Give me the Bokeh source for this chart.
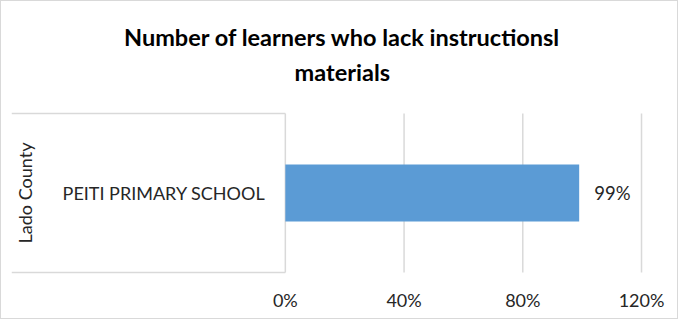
from bokeh.plotting import figure
from bokeh.models import Range1d, FixedTicker, ColumnDataSource
from bokeh.core.properties import value
from bokeh.embed import file_html
from bokeh.resources import INLINE
import math

# ---- data ----
county = "Lado County"
schools = ["PEITI PRIMARY SCHOOL"]
shares = [0.99]
value_labels = ["99%"]
x_ticks = [0, 0.4, 0.8, 1.2]
x_tick_labels = ["0%", "40%", "80%", "120%"]
title_lines = ["Number of learners who lack instructionsl", "materials"]

FONT = "Lato"
TXT = "#262626"
GRID = "#d9d9d9"
BAR = "#5b9bd5"

W, H = 678, 319
x_start, x_end = -0.9226, 1.2067
# the frame also covers the title area, so the title is drawn in data space
p = figure(width=W, height=H, output_backend="svg", toolbar_location=None,
           x_range=Range1d(x_start, x_end), y_range=Range1d(-0.0252, 1.7044),
           y_axis_location=None,
           min_border_left=10, min_border_right=36, min_border_top=0,
           min_border_bottom=44)
p.outline_line_color = None
p.grid.visible = False
p.styles = {"border": "1px solid #d9d9d9"}

# title lines
title_x = 0.192
title_y = [1.478, 1.264]
p.text(x=[title_x] * len(title_lines), y=title_y, text=title_lines,
       text_align="center", text_baseline="alphabetic", text_font=value(FONT),
       text_font_style="bold", text_font_size="23.5px", text_color="#000000")

# x axis
ax = p.xaxis[0]
ax.ticker = FixedTicker(ticks=x_ticks)
ax.major_label_overrides = {t: l for t, l in zip(x_ticks, x_tick_labels)}
ax.axis_line_color = None
ax.major_tick_line_color = None
ax.minor_tick_line_color = None
ax.major_label_text_font = FONT
ax.major_label_text_font_size = "18px"
ax.major_label_text_color = TXT
ax.major_label_standoff = 6

# grid lines (vertical) at ticks, spanning category box
p.segment(x0=x_ticks, y0=[0] * len(x_ticks), x1=x_ticks, y1=[1] * len(x_ticks),
          line_color=GRID, line_width=1.5)
# category box top/bottom
p.segment(x0=[x_start, x_start], y0=[0, 1], x1=[0, 0], y1=[0, 1],
          line_color=GRID, line_width=1.5)

# bars
n = len(schools)
ys = [(i + 0.5) / n for i in range(n)]
src = ColumnDataSource(dict(y=ys, right=shares, school=schools, lab=value_labels))
p.hbar(y="y", left=0, right="right", height=0.357 / n, source=src,
       fill_color=BAR, line_color=None)
p.text(x="right", y="y", text="lab", source=src, x_offset=15,
       text_align="left", text_baseline="middle", text_font=value(FONT),
       text_font_size="18.5px", text_color=TXT)
# category labels
p.text(x=0, y="y", text="school", source=src, x_offset=-20,
       text_align="right", text_baseline="middle", text_font=value(FONT),
       text_font_size="18px", text_color=TXT)
p.text(x=[x_start], y=[0.5], text=[county], x_offset=13, angle=math.pi / 2,
       text_align="center", text_baseline="middle", text_font=value(FONT),
       text_font_size="18px", text_color=TXT)

open("out.html", "w").write(file_html(p, INLINE))
